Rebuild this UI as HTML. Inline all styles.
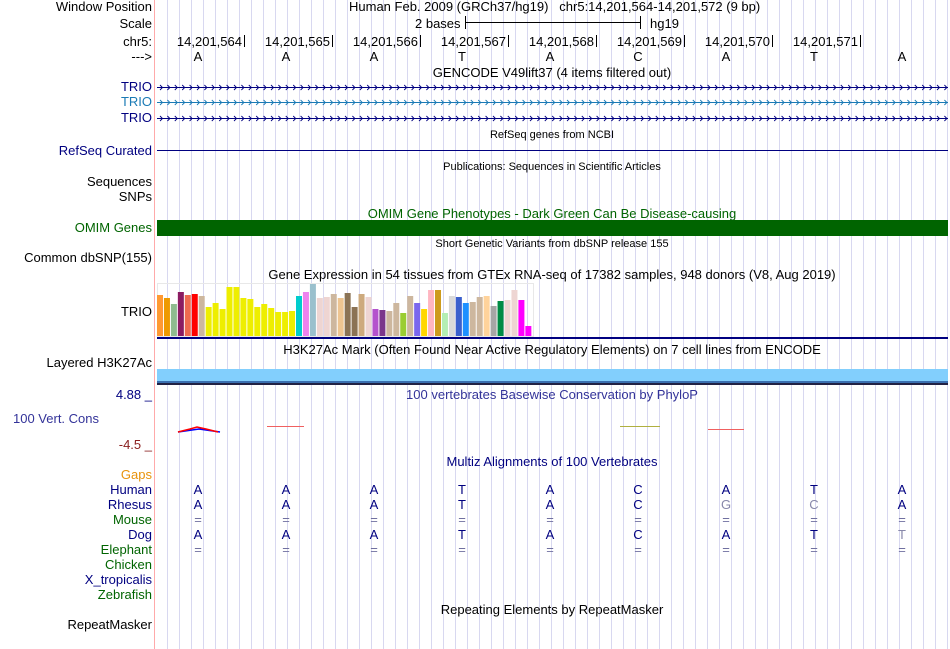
<!DOCTYPE html>
<html><head><meta charset="utf-8"><style>
body{margin:0;width:950px;height:649px;background:#fff;overflow:hidden;font-family:"Liberation Sans",sans-serif;font-size:13px;color:#000}
#root{position:relative;width:950px;height:649px}
.t{position:absolute;white-space:nowrap;line-height:14px}
.l{position:absolute;right:798px;white-space:nowrap;line-height:14px;text-align:right}
.c{position:absolute;white-space:nowrap;line-height:14px;transform:translateX(-50%)}
svg{position:absolute;left:0;top:0}
</style></head><body><div id="root">
<svg id="g" width="950" height="649"></svg>
<div class="l" style="top:0">Window Position</div>
<div class="t" style="top:0;left:349px">Human Feb. 2009 (GRCh37/hg19)&nbsp;&nbsp;&nbsp;chr5:14,201,564-14,201,572 (9 bp)</div>
<div class="l" style="top:17px">Scale</div>
<div class="t" style="top:17px;left:415px">2 bases</div>
<div class="t" style="top:17px;left:650px">hg19</div>
<div class="l" style="top:35px">chr5:</div>
<div class="l" style="top:50px">---&gt;</div>
<div class="c" style="top:66px;left:552px">GENCODE V49lift37 (4 items filtered out)</div>
<div class="l" style="top:80px;color:#000080">TRIO</div>
<div class="l" style="top:95px;color:#1a7ab5">TRIO</div>
<div class="l" style="top:111px;color:#000080">TRIO</div>
<div class="c" style="top:128px;left:552px;font-size:11px">RefSeq genes from NCBI</div>
<div class="l" style="top:144px;color:#000080">RefSeq Curated</div>
<div class="c" style="top:160px;left:552px;font-size:11px">Publications: Sequences in Scientific Articles</div>
<div class="l" style="top:175px">Sequences</div>
<div class="l" style="top:190px">SNPs</div>
<div class="c" style="top:207px;left:552px;color:#006400">OMIM Gene Phenotypes - Dark Green Can Be Disease-causing</div>
<div class="l" style="top:221px;color:#006400">OMIM Genes</div>
<div class="c" style="top:237px;left:552px;font-size:11px">Short Genetic Variants from dbSNP release 155</div>
<div class="l" style="top:251px">Common dbSNP(155)</div>
<div class="c" style="top:268px;left:552px">Gene Expression in 54 tissues from GTEx RNA-seq of 17382 samples, 948 donors (V8, Aug 2019)</div>
<div class="l" style="top:305px">TRIO</div>
<div class="c" style="top:343px;left:552px">H3K27Ac Mark (Often Found Near Active Regulatory Elements) on 7 cell lines from ENCODE</div>
<div class="l" style="top:356px">Layered H3K27Ac</div>
<div class="l" style="top:388px;color:#000080">4.88 _</div>
<div class="c" style="top:388px;left:552px;color:#333399">100 vertebrates Basewise Conservation by PhyloP</div>
<div class="t" style="top:412px;left:13px;color:#333399">100 Vert. Cons</div>
<div class="l" style="top:438px;color:#8b2020">-4.5 _</div>
<div class="c" style="top:455px;left:552px;color:#000080">Multiz Alignments of 100 Vertebrates</div>
<div class="l" style="top:468px;color:#e8930c">Gaps</div>
<div id="species"></div>
<div class="c" style="top:603px;left:552px">Repeating Elements by RepeatMasker</div>
<div class="l" style="top:618px">RepeatMasker</div>
</div>
<script>
const positions=["14,201,564","14,201,565","14,201,566","14,201,567","14,201,568","14,201,569","14,201,570","14,201,571"];
const bases=["A","A","A","T","A","C","A","T","A"];
const speciesNames=["Human","Rhesus","Mouse","Dog","Elephant","Chicken","X_tropicalis","Zebrafish"];
const speciesColors=["#000080","#000080","#006400","#000080","#006400","#006400","#000080","#006400"];
const alignRhesus=["A","A","A","T","A","C","g:G","g:C","A"];
const alignMouse=["=","=","=","=","=","=","=","=","="];
const alignDog=["A","A","A","T","A","C","A","T","g:T"];
const alignElephant=["=","=","=","=","=","=","=","=","="];
const gtexValues=[41,38,32,44,41,42,40,29,33,27,49,49,38,37,29,32,28,24,24,25,40,44,52,38,39,42,38,43,29,42,39,27,26,25,33,23,40,33,27,46,46,23,40,39,33,34,39,40,30,35,36,46,36,10];
const gtexColors=["#ff9933","#ee9a00","#8fbc8f","#8b1c62","#ee6a50","#ff0000","#cdb79e","#eeee00","#eeee00","#eeee00","#eeee00","#eeee00","#eeee00","#eeee00","#eeee00","#eeee00","#eeee00","#eeee00","#eeee00","#eeee00","#00cdcd","#ee82ee","#9ac0cd","#eed5d2","#eed5d2","#cdb79e","#eec591","#8b7355","#8b7355","#cdaa7d","#eed5d2","#b452cd","#7a378b","#cdb79e","#cdb79e","#9acd32","#cdb79e","#7a67ee","#ffd700","#ffb6c1","#cd9b1d","#b4eeb4","#d9d9d9","#3a5fcd","#1e90ff","#cdb79e","#cdb79e","#ffd39b","#a6a6a6","#008b45","#eed5d2","#eed5d2","#ff00ff","#ff00ff"];
const NS="http://www.w3.org/2000/svg",g=document.getElementById('g');
function mk(tag,a){const e=document.createElementNS(NS,tag);for(const k in a)e.setAttribute(k,a[k]);g.appendChild(e);return e;}
const x0=157,bw=88;
function bx(i){return x0+bw*i+41;}
for(let x=167;x<949;x+=12){const e=mk('line',{x1:x+.5,y1:0,x2:x+.5,y2:649,stroke:'#d8d8f0','stroke-width':1});

}
let e=mk('line',{x1:154.5,y1:0,x2:154.5,y2:649,stroke:'#ffaaaa'});


mk('line',{x1:465,y1:22.5,x2:640,y2:22.5,stroke:'#000'});mk('line',{x1:465.5,y1:16,x2:465.5,y2:29,stroke:'#000'});mk('line',{x1:640.5,y1:16,x2:640.5,y2:29,stroke:'#000'});
positions.forEach((p,i)=>{const tx=x0+bw*(i+1)-1;
const t=mk('text',{x:tx-2,y:46,'text-anchor':'end','font-size':13,'font-family':'Liberation Sans'});t.textContent=p;


mk('line',{x1:tx+.5,y1:35,x2:tx+.5,y2:47,stroke:'#000'});});
bases.forEach((b,i)=>{const t=mk('text',{x:bx(i),y:61,'text-anchor':'middle','font-size':13,'font-family':'Liberation Sans'});t.textContent=b;

});
[[87,'#000080'],[102,'#1a7ab5'],[118,'#000080']].forEach(([y,c])=>{mk('line',{x1:157,y1:y+.5,x2:948,y2:y+.5,stroke:c});
let d='';for(let x=160;x<946;x+=7.4){d+=`M${x},${y-2}L${x+2.5},${y+.5}L${x},${y+3}`;}
const p=mk('path',{d:d,stroke:c,fill:'none','stroke-width':0.9});

});
e=mk('line',{x1:157,y1:150.5,x2:948,y2:150.5,stroke:'#000080'});


e=mk('rect',{x:157,y:220,width:791,height:16,fill:'#006400'});


mk('rect',{x:157.5,y:283.5,width:376,height:53,fill:'none',stroke:'#e8e8e8'});
const base=336,bxw=6,step=6.95;
gtexValues.forEach((v,i)=>{const r=mk('rect',{x:157+i*step,y:base-v,width:bxw,height:v,fill:gtexColors[i]});

});
mk('line',{x1:157,y1:338,x2:948,y2:338,stroke:'#000080','stroke-width':2});
mk('rect',{x:157,y:369,width:791,height:12,fill:'#82cffd'});
mk('rect',{x:157,y:381,width:791,height:2,fill:'#3a6fb0'});
mk('rect',{x:157,y:383,width:791,height:2,fill:'#222244'});
mk('path',{d:'M178,432 L199,429 L220,432',stroke:'#0000ff',fill:'none','stroke-width':1.5});
mk('path',{d:'M178,432 L190,429 L197,427 L206,429 L218,432',stroke:'#ff0000',fill:'none','stroke-width':1.5});
mk('line',{x1:267,y1:426.5,x2:304,y2:426.5,stroke:'#f06060'});
mk('line',{x1:620,y1:426.5,x2:660,y2:426.5,stroke:'#b0b040'});
mk('line',{x1:708,y1:429.5,x2:744,y2:429.5,stroke:'#f06060'});
const sp=document.getElementById('species');
const rows=[bases,alignRhesus,alignMouse,alignDog,alignElephant,[],[],[]];
speciesNames.forEach((n,k)=>{const y=483+15*k;const d=document.createElement('div');d.className='l';d.style.top=y+'px';d.style.color=speciesColors[k];d.textContent=n;


sp.appendChild(d);
rows[k].forEach((b,i)=>{let c=b==='='?'#7070a0':'#000080';if(b.startsWith('g:')){b=b.slice(2);c='#8888aa';}
const t=mk('text',{x:bx(i),y:y+11,'text-anchor':'middle','font-size':13,'font-family':'Liberation Sans',fill:c});t.textContent=b;

});});
</script></body></html>
